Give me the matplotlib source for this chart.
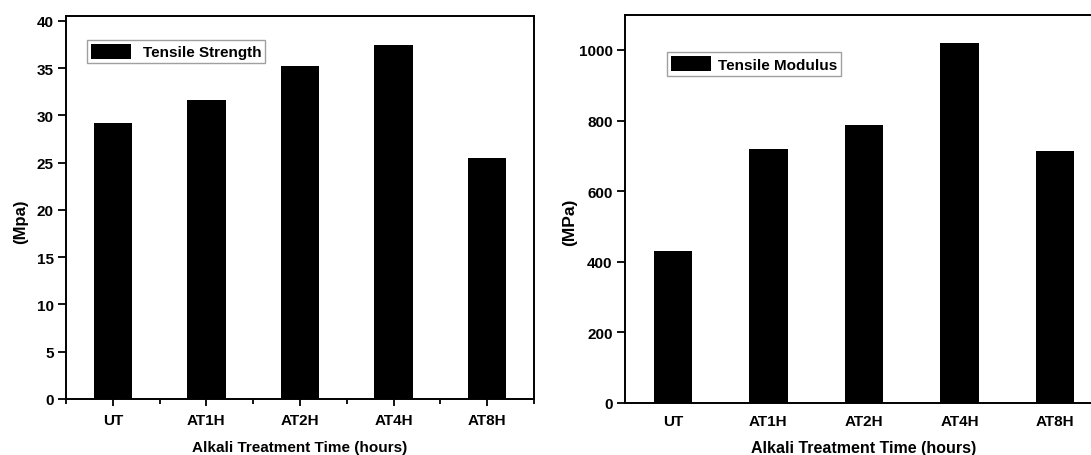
import matplotlib
matplotlib.use("Agg")
from matplotlib import pyplot as plt
from matplotlib.ticker import FixedLocator

categories = ['UT', 'AT1H', 'AT2H', 'AT4H', 'AT8H']
tensile_strength = [29.2, 31.6, 35.2, 37.4, 25.5]
tensile_modulus = [432, 719, 787, 1020, 714]
strength_ticks = [0, 5, 10, 15, 20, 25, 30, 35, 40]
modulus_ticks = [0, 200, 400, 600, 800, 1000]

plt.rcParams['font.family'] = ['Liberation Sans', 'DejaVu Sans']
plt.rcParams['font.weight'] = 'bold'

fig = plt.figure(figsize=(10.91, 4.56), dpi=100)
ax1 = fig.add_axes([66 / 1091, 1 - 400 / 456, 468 / 1091, 383 / 456])
ax2 = fig.add_axes([625 / 1091, 1 - 404 / 456, 478 / 1091, 388.3 / 456])

x = list(range(len(categories)))

# left panel: tensile strength
ax1.bar(x, tensile_strength, width=0.41, color='black', label='Tensile Strength')
ax1.set_xlim(-0.5, 4.5)
ax1.set_ylim(0, 40.5)
ax1.set_yticks(strength_ticks)
ax1.set_xticks(x)
ax1.set_xticklabels(categories)
ax1.xaxis.set_minor_locator(FixedLocator([-0.5, 0.5, 1.5, 2.5, 3.5, 4.5]))
ax1.tick_params(axis='x', which='major', length=5, width=1.3, pad=5, labelsize=11)
ax1.tick_params(axis='x', which='minor', length=3.5, width=1.3)
ax1.tick_params(axis='y', length=6, width=1.3, pad=3, labelsize=11)
ax1.set_xlabel('Alkali Treatment Time (hours)', fontsize=11, fontweight='bold', labelpad=9.5)
ax1.set_ylabel('(Mpa)', fontsize=12, fontweight='bold')
ax1.yaxis.set_label_coords(-0.081, 0.465)
leg1 = ax1.legend(loc='upper left', bbox_to_anchor=(0.045, 0.937), fontsize=11,
                  fancybox=False, edgecolor='#888888', handlelength=2.6, handleheight=1.1,
                  borderpad=0.25, handletextpad=0.8, borderaxespad=0)
leg1.get_frame().set_linewidth(1.0)

# right panel: tensile modulus
ax2.bar(x, tensile_modulus, width=0.40, color='black', label='Tensile Modulus')
ax2.set_xlim(-0.5, 4.5)
ax2.set_ylim(0, 1100)
ax2.set_yticks(modulus_ticks)
ax2.set_xticks(x)
ax2.set_xticklabels(categories)
ax2.tick_params(axis='x', length=0, pad=8, labelsize=11)
ax2.tick_params(axis='y', length=6, width=1.3, pad=3, labelsize=11)
ax2.set_xlabel('Alkali Treatment Time (hours)', fontsize=11.5, fontweight='bold', labelpad=8.5)
ax2.set_ylabel('(MPa)', fontsize=12.5, fontweight='bold')
ax2.yaxis.set_label_coords(-0.100, 0.469)
leg2 = ax2.legend(loc='upper left', bbox_to_anchor=(0.088, 0.903), fontsize=11,
                  fancybox=False, edgecolor='#888888', handlelength=2.6, handleheight=1.1,
                  borderpad=0.25, handletextpad=0.5, borderaxespad=0)
leg2.get_frame().set_linewidth(1.0)

for ax in (ax1, ax2):
    for spine in ax.spines.values():
        spine.set_linewidth(1.4)

fig.savefig('out.png', dpi=100)
